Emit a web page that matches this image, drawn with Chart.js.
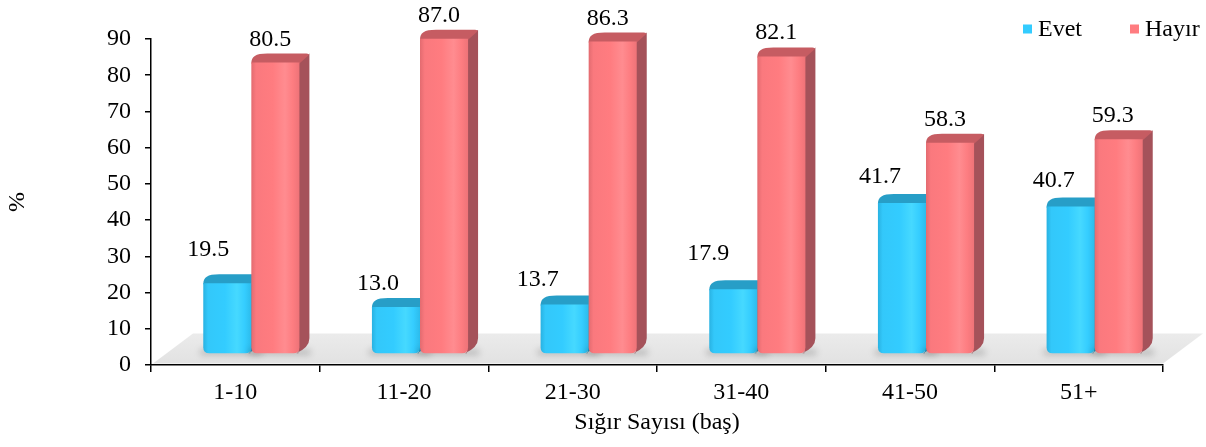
<!DOCTYPE html>
<html>
<head>
<meta charset="utf-8">
<script src="https://cdn.jsdelivr.net/npm/chart.js@4.4.1/dist/chart.umd.min.js"></script>
<style>
  html, body { margin: 0; padding: 0; background: #ffffff; }
  #wrap { width: 1206px; height: 447px; }
</style>
</head>
<body>
<div id="wrap"><canvas id="chart" width="1206" height="447"></canvas></div>
<script>
// Herd size groups (number of cattle) and the share of answers per group (%)
const categories = ['1-10', '11-20', '21-30', '31-40', '41-50', '51+'];
const evetValues = [19.5, 13.0, 13.7, 17.9, 41.7, 40.7];
const hayirValues = [80.5, 87.0, 86.3, 82.1, 58.3, 59.3];
const seriesNames = ['Evet', 'Hayır'];
const yTickMin = 0;
const yTickMax = 90;
const yTickStep = 10;
const xAxisTitle = 'Sığır Sayısı (baş)';
const yAxisTitle = '%';

const FONT = "'Liberation Serif', 'Times New Roman', serif";

// Colours of the faces of each 3D column
const palette = [
  { front: ['#29b2e2', '#33c8fa', '#33ccff', '#46d9ff', '#35cdff', '#2cbbeb'], cap: '#279ec7', side: '#2292b8', key: '#33ccff' },
  { front: ['#e36b70', '#fa797e', '#ff7c80', '#ff8c90', '#fd7d81', '#ee7378'], cap: '#c65c62', side: '#a5525a', key: '#ff7c80' }
];

// Projection of the 3D box: the floor depth and where columns stand on it
const floorDepth = { dx: 40, dy: -30 };
const columnShift = { dx: 16, dy: -11 };
const columnDepth = { dx: 10, dy: -9 };

// Nudges for the value labels (pixels left of column centre, pixels above column top)
const labelNudge = [
  { x: [-19, -18, -27, -25, -22, -17], lift: [34, 23, 25, 35, 26, 26] },
  { x: [-5, -5, -5, -5, -5, -6], lift: [23, 23, 23, 24, 23, 23] }
];

function frontPath(ctx, x0, x1, yTop, yBot, r) {
  ctx.beginPath();
  ctx.moveTo(x0, yTop);
  ctx.lineTo(x1, yTop);
  ctx.lineTo(x1, yBot - r);
  ctx.quadraticCurveTo(x1, yBot, x1 - r, yBot);
  ctx.lineTo(x0 + r, yBot);
  ctx.quadraticCurveTo(x0, yBot, x0, yBot - r);
  ctx.closePath();
}

function drawColumn(ctx, x0, x1, yTop, yBot, col) {
  const dx = columnDepth.dx, dy = columnDepth.dy, r = 6;

  // soft contact shadow on the floor
  ctx.save();
  ctx.filter = 'blur(3px)';
  ctx.fillStyle = 'rgba(0,0,0,0.18)';
  ctx.fillRect(x0 - 3, yBot - 4, (x1 - x0) + dx + 4, 6);
  ctx.restore();

  // right side face
  ctx.fillStyle = col.side;
  ctx.beginPath();
  ctx.moveTo(x1 - 1, yTop);
  ctx.lineTo(x1 + dx, yTop + dy);
  ctx.lineTo(x1 + dx, yBot + dy - r);
  ctx.quadraticCurveTo(x1 + dx, yBot + dy + 3, x1 - r / 2, yBot);
  ctx.lineTo(x1 - 1, yBot);
  ctx.closePath();
  ctx.fill();

  // top cap
  ctx.fillStyle = col.cap;
  ctx.beginPath();
  ctx.moveTo(x0, yTop + 1);
  ctx.bezierCurveTo(x0, yTop + dy + 3, x0 + dx * 0.4, yTop + dy, x0 + dx + 6, yTop + dy);
  ctx.lineTo(x1 + dx - 3, yTop + dy);
  ctx.quadraticCurveTo(x1 + dx, yTop + dy, x1 + dx - 1, yTop + dy + 2);
  ctx.lineTo(x1, yTop + 1);
  ctx.closePath();
  ctx.fill();

  // front face with a vertical sheen
  const g = ctx.createLinearGradient(x0, 0, x1, 0);
  const stops = [0, 0.1, 0.45, 0.7, 0.86, 1];
  stops.forEach((s, i) => g.addColorStop(s, col.front[i]));
  ctx.fillStyle = g;
  frontPath(ctx, x0, x1, yTop, yBot, r);
  ctx.fill();
}

const floorPlugin = {
  id: 'floor3d',
  beforeDraw(chart) {
    const { ctx, chartArea } = chart;
    const y0 = chart.scales.y.getPixelForValue(0) - 1.5;
    const xl = chartArea.left + 2, xr = chartArea.right;
    ctx.save();
    const g = ctx.createLinearGradient(0, y0 + floorDepth.dy, 0, y0);
    g.addColorStop(0, '#ebebeb');
    g.addColorStop(1, '#e2e2e2');
    ctx.fillStyle = g;
    ctx.beginPath();
    ctx.moveTo(xl, y0);
    ctx.lineTo(xr, y0);
    ctx.lineTo(xr + floorDepth.dx, y0 + floorDepth.dy);
    ctx.lineTo(xl + floorDepth.dx, y0 + floorDepth.dy);
    ctx.closePath();
    ctx.fill();
    ctx.restore();
  }
};

const columnPlugin = {
  id: 'columns3d',
  afterDatasetsDraw(chart) {
    const { ctx } = chart;
    const metas = chart.data.datasets.map((d, i) => chart.getDatasetMeta(i));
    ctx.save();
    // draw category by category so the right-hand column hides the left one's side
    for (let k = 0; k < categories.length; k++) {
      metas.forEach((meta, i) => {
        const el = meta.data[k];
        const p = el.getProps(['x', 'y', 'base', 'width'], true);
        const x0 = p.x - p.width / 2 + columnShift.dx;
        const x1 = p.x + p.width / 2 + columnShift.dx;
        drawColumn(ctx, x0, x1, p.y + columnShift.dy, p.base + columnShift.dy, palette[i]);
      });
    }
    // value labels
    ctx.fillStyle = '#000';
    ctx.font = '24px ' + FONT;
    ctx.textAlign = 'center';
    ctx.textBaseline = 'middle';
    metas.forEach((meta, i) => {
      const values = chart.data.datasets[i].data;
      meta.data.forEach((el, k) => {
        const p = el.getProps(['x', 'y'], true);
        const cx = p.x + columnShift.dx + labelNudge[i].x[k];
        const cy = p.y + columnShift.dy - labelNudge[i].lift[k];
        ctx.fillText(values[k].toFixed(1), cx, cy);
      });
    });
    ctx.restore();
  },
  afterDraw(chart) {
    // legend in the top-right corner
    const { ctx } = chart;
    ctx.save();
    ctx.font = '24px ' + FONT;
    ctx.textBaseline = 'middle';
    ctx.textAlign = 'left';
    const keyX = [1023, 1130];
    const keyY = 29;
    chart.data.datasets.forEach((ds, i) => {
      ctx.fillStyle = palette[i].key;
      ctx.fillRect(keyX[i], keyY - 4.5, 9, 9);
      ctx.fillStyle = '#000';
      ctx.fillText(ds.label, keyX[i] + 15, keyY + 1);
    });
    ctx.restore();
  }
};

new Chart(document.getElementById('chart'), {
  type: 'bar',
  data: {
    labels: categories,
    datasets: [
      { label: seriesNames[0], data: evetValues, backgroundColor: 'rgba(0,0,0,0)', borderWidth: 0 },
      { label: seriesNames[1], data: hayirValues, backgroundColor: 'rgba(0,0,0,0)', borderWidth: 0 }
    ]
  },
  options: {
    responsive: false,
    devicePixelRatio: 1,
    animation: false,
    events: [],
    layout: { padding: { top: 39, right: 43, left: 0, bottom: 0 } },
    datasets: { bar: { categoryPercentage: 0.57, barPercentage: 1.0 } },
    plugins: { legend: { display: false }, tooltip: { enabled: false } },
    scales: {
      x: {
        grid: { display: true, drawOnChartArea: false, drawTicks: true, tickLength: 7, color: '#000', lineWidth: 1.5, offset: true },
        border: { display: true, color: '#000', width: 1.5 },
        ticks: { color: '#000', font: { family: FONT, size: 24 }, padding: 6, maxRotation: 0 },
        title: { display: true, text: xAxisTitle, color: '#000', font: { family: FONT, size: 24 }, padding: { top: 0, bottom: 10 } },
        afterFit(scale) { scale.height = 82; }
      },
      y: {
        min: yTickMin,
        max: yTickMax,
        grid: { display: true, drawOnChartArea: false, drawTicks: true, tickLength: 6, color: '#000', lineWidth: 1.5 },
        border: { display: true, color: '#000', width: 1.5 },
        ticks: { stepSize: yTickStep, color: '#000', font: { family: FONT, size: 24 }, padding: 14 },
        title: { display: true, text: yAxisTitle, color: '#000', font: { family: FONT, size: 24 }, padding: { top: 3, bottom: 0 } },
        afterFit(scale) { scale.width = 151; }
      }
    }
  },
  plugins: [floorPlugin, columnPlugin]
});
</script>
</body>
</html>
